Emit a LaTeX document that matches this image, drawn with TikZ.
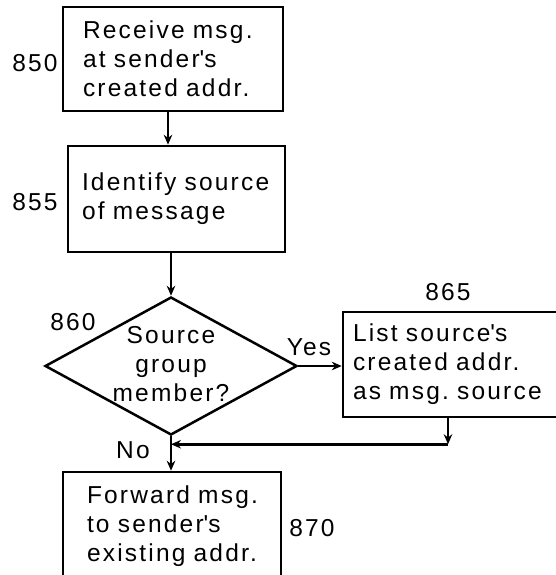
\documentclass[tikz,border=0pt]{standalone}
\usepackage{fontspec}
\setmainfont{Liberation Sans}[LetterSpace=9,WordSpace=1.5]
\usetikzlibrary{shapes.geometric,arrows.meta}
\frenchspacing
\newcommand{\apos}{\textquotesingle}
\begin{document}
\begin{tikzpicture}[x=1pt,y=-1pt,
  every node/.style={font=\fontsize{24.5}{29}\selectfont},
  box/.style={draw,line width=2.5pt,rectangle,align=left,inner ysep=0pt},
  decision/.style={draw,line width=2.5pt,diamond,inner sep=0pt,aspect=1.83,minimum width=252pt,minimum height=138pt},
  arr/.style={line width=2.5pt,-{Stealth[length=10pt,width=8.5pt]}},
  lbl/.style={inner sep=0pt}]
\useasboundingbox (0,0) rectangle (556,575);
\clip (0,0) rectangle (556,575);
\fill[white] (0,0) rectangle (556,575);

\node[box,minimum width=220pt,minimum height=104pt,inner xsep=20pt,text width=180pt] (b850) at (173,59) {Receive msg.\\at sender\apos s\\created addr.};
\node[box,minimum width=217pt,minimum height=106pt,inner xsep=14pt,text width=189pt] (b855) at (176.5,199) {Identify source\\of message};
\node[decision] (d860) at (171,366) {};
\node[align=center,inner sep=0pt] (t860) at (171,364) {Source\\group\\member?};
\node[box,minimum width=215pt,minimum height=105pt,inner xsep=10pt,text width=195pt] (b865) at (450.5,364.5) {List source\apos s\\created addr.\\as msg. source};
\node[box,minimum width=218pt,minimum height=108pt,inner xsep=24pt,text width=170pt] (b870) at (172,526) {Forward msg.\\to sender\apos s\\existing addr.};

\node[lbl] (l850) at (35,63) {850};
\node[lbl] (l855) at (35,202) {855};
\node[lbl] (l860) at (73,322) {860};
\node[lbl] (l865) at (448,292) {865};
\node[lbl] (l870) at (312,528) {870};
\node[lbl] (yes) at (309,347) {Yes};
\node[lbl] (no) at (133,450) {No};

\draw[arr] ([xshift=-5pt]b850.south) -- ([xshift=-5pt]b850.south |- b855.north);
\draw[arr] (d860.north |- b855.south) -- (d860.north);
\draw[arr] (d860.east) -- (d860.east -| b865.west);
\draw[arr] (d860.south) -- (d860.south |- b870.north);
\coordinate (corner) at ([xshift=-2.5pt,yshift=-26pt]b865.south);
\draw[arr] ([xshift=-2.5pt]b865.south) -- (corner);
\draw[arr] (corner) -- (corner -| d860.south);
\end{tikzpicture}
\end{document}
